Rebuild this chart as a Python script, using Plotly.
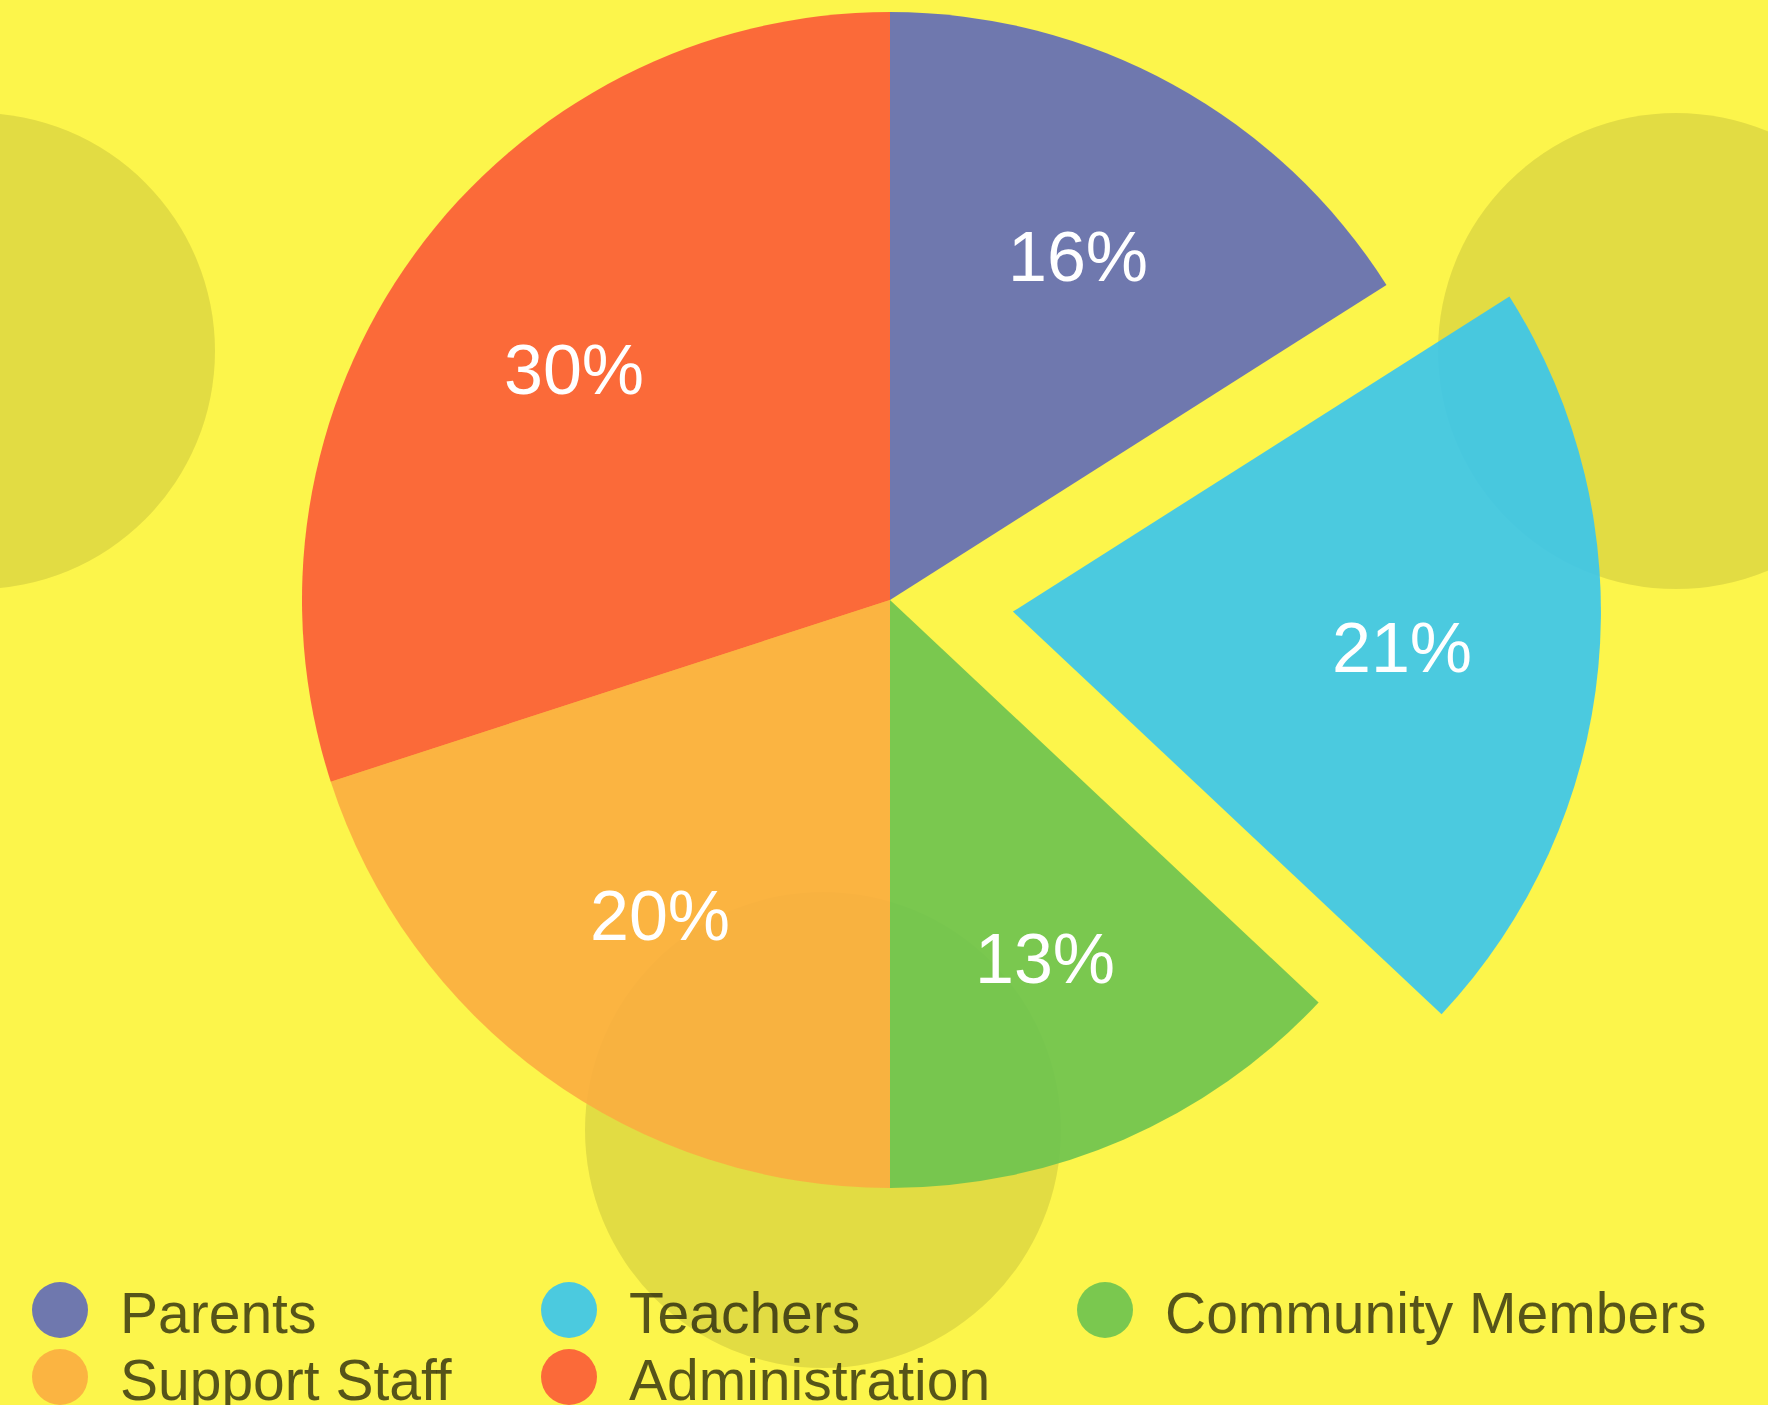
import math
import plotly.graph_objects as go

W, H = 1768, 1405

# ---- data ----
CATEGORIES = ["Parents", "Teachers", "Community Members", "Support Staff", "Administration"]
SHARES = [16, 21, 13, 20, 30]
COLORS = ["rgba(95,106,185,0.9)", "rgba(55,197,240,0.9)", "rgba(108,195,80,0.9)",
          "rgba(251,173,64,0.9)", "rgba(251,91,55,0.9)"]
PULLED = "Teachers"
PULL = 0.21

# ---- layout constants (pixels) ----
BG = "#fcf54b"
PIE_CX, PIE_CY, PIE_R = 890, 600, 588
LABEL_RADIUS = 0.665  # fraction of the radius where the % labels sit
LABEL_FONT = "Liberation Sans, Arial, Helvetica, sans-serif"
LEG_COL_X = [60, 569, 1105]
LEG_ROW_Y = [1310, 1377]
LEG_TEXT_DX = 60
LEG_TEXT_DY = 9
DECOR_CIRCLES = [(-23, 351, 238), (1676, 351, 238), (823, 1130, 238)]
TRANSPARENT = "rgba(0,0,0,0)"


def pie_domain(cx, cy, r):
    return dict(x=[(cx - r) / W, (cx + r) / W],
                y=[(H - cy - r) / H, (H - cy + r) / H])


total = sum(SHARES)
mids = []
acc = 0
for v in SHARES:
    mids.append((acc + v / 2) / total * 2 * math.pi)  # clockwise from 12 o'clock
    acc += v

# offset for the exploded slice
k = CATEGORIES.index(PULLED)
dx = PULL * PIE_R * math.sin(mids[k])
dy = -PULL * PIE_R * math.cos(mids[k])  # screen y downwards

fig = go.Figure()

main_colors = [TRANSPARENT if c == PULLED else col for c, col in zip(CATEGORIES, COLORS)]
pull_colors = [col if c == PULLED else TRANSPARENT for c, col in zip(CATEGORIES, COLORS)]

common = dict(labels=CATEGORIES, values=SHARES, sort=False, direction="clockwise",
              rotation=0, textinfo="none", showlegend=False, hoverinfo="label+percent")

fig.add_trace(go.Pie(domain=pie_domain(PIE_CX, PIE_CY, PIE_R),
                     marker=dict(colors=main_colors, line=dict(width=0)), **common))
fig.add_trace(go.Pie(domain=pie_domain(PIE_CX + dx, PIE_CY + dy, PIE_R),
                     marker=dict(colors=pull_colors, line=dict(width=0)), **common))

# ---- percentage labels along each slice's mid angle ----
annotations = []
for c, v, m in zip(CATEGORIES, SHARES, mids):
    ox, oy = (dx, dy) if c == PULLED else (0, 0)
    annotations.append(dict(
        x=PIE_CX + ox + LABEL_RADIUS * PIE_R * math.sin(m),
        y=PIE_CY + oy - LABEL_RADIUS * PIE_R * math.cos(m),
        xref="x", yref="y", text=f"{round(v / total * 100)}%", showarrow=False,
        xanchor="center", yanchor="middle",
        font=dict(size=70, color="white", family=LABEL_FONT)))

# ---- custom legend (circle markers in 3 columns) ----
leg_x = [LEG_COL_X[i % 3] for i in range(len(CATEGORIES))]
leg_y = [LEG_ROW_Y[i // 3] for i in range(len(CATEGORIES))]
fig.add_trace(go.Scatter(x=leg_x, y=leg_y, mode="markers",
                         marker=dict(size=56, color=COLORS, line=dict(width=0)),
                         hoverinfo="skip", showlegend=False, cliponaxis=False))
fig.add_trace(go.Scatter(x=[x + LEG_TEXT_DX for x in leg_x], y=[y + LEG_TEXT_DY for y in leg_y],
                         mode="text", text=CATEGORIES, textposition="middle right",
                         textfont=dict(size=57, color="rgba(0,0,0,0.66)", family=LABEL_FONT),
                         hoverinfo="skip", showlegend=False, cliponaxis=False))

shapes = [dict(type="circle", xref="x", yref="y", x0=cx - r, x1=cx + r, y0=cy - r, y1=cy + r,
               fillcolor="rgba(0,0,0,0.1)", line=dict(width=0), layer="below")
          for cx, cy, r in DECOR_CIRCLES]

fig.update_layout(
    width=W, height=H,
    margin=dict(l=0, r=0, t=0, b=0),
    paper_bgcolor=BG, plot_bgcolor=TRANSPARENT,
    xaxis=dict(range=[0, W], visible=False, fixedrange=True, domain=[0, 1]),
    yaxis=dict(range=[H, 0], visible=False, fixedrange=True, domain=[0, 1]),
    shapes=shapes,
    annotations=annotations,
    showlegend=False,
)

fig.write_html("out.html", config={"displayModeBar": False})
